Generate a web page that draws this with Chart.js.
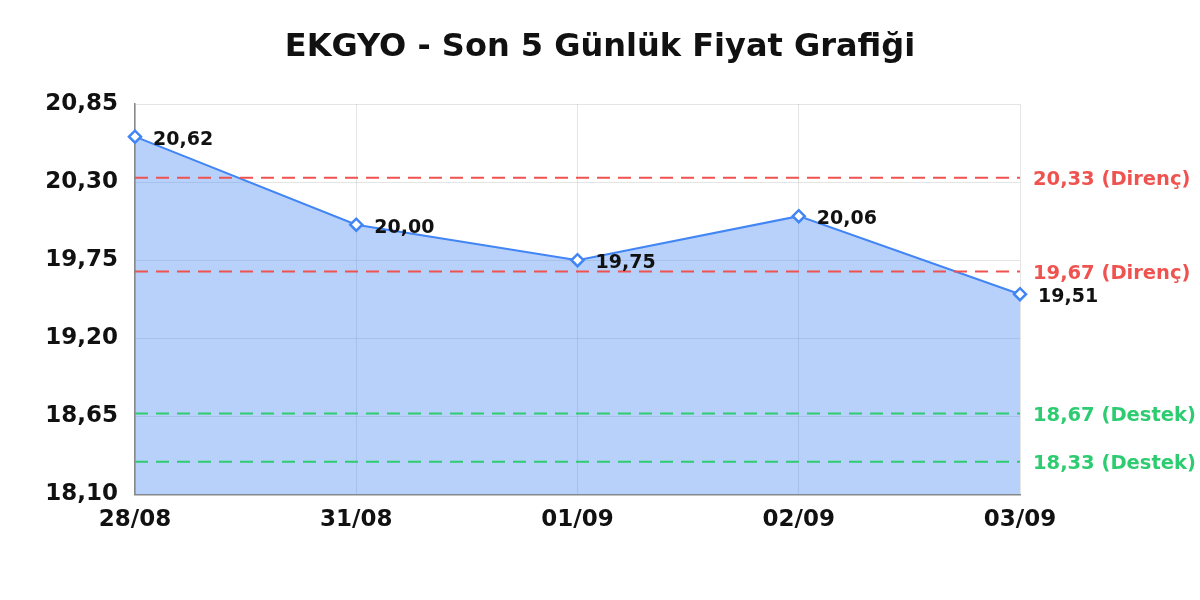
<!DOCTYPE html>
<html>
<head>
<meta charset="utf-8">
<script src="https://cdn.jsdelivr.net/npm/chart.js@4.4.0/dist/chart.umd.min.js"></script>
<style>
html,body{margin:0;padding:0;background:#fff;}
#wrap{width:1200px;height:600px;}
</style>
</head>
<body>
<div id="wrap"><canvas id="c" width="1200" height="600"></canvas></div>
<script>
const titleText = "EKGYO - Son 5 Günlük Fiyat Grafiği";
const categories = ["28/08", "31/08", "01/09", "02/09", "03/09"];
const prices = [20.62, 20.00, 19.75, 20.06, 19.51];
const resistanceLevels = [20.33, 19.67];
const supportLevels = [18.67, 18.33];
const yMin = 18.10, yMax = 20.85, yStep = 0.55;

const FONT = "'DejaVu Sans', sans-serif";
const fmt = v => v.toFixed(2).replace('.', ',');

const levelLines = [
  ...resistanceLevels.map(v => ({value: v, text: fmt(v) + " (Direnç)", color: "#ef5350"})),
  ...supportLevels.map(v => ({value: v, text: fmt(v) + " (Destek)", color: "#2ecc71"}))
];

const levelPlugin = {
  id: 'levels',
  afterDatasetsDraw(chart) {
    const {ctx, chartArea, scales} = chart;
    ctx.save();
    // title
    ctx.fillStyle = "#111";
    ctx.font = "bold 32px " + FONT;
    ctx.textAlign = 'center';
    ctx.textBaseline = 'middle';
    ctx.fillText(titleText, chart.width / 2, 48);
    levelLines.forEach(l => {
      const y = scales.y.getPixelForValue(l.value);
      ctx.beginPath();
      ctx.setLineDash([13, 8]);
      ctx.lineWidth = 2;
      ctx.strokeStyle = l.color;
      ctx.moveTo(chartArea.left, y);
      ctx.lineTo(chartArea.right, y);
      ctx.stroke();
      ctx.setLineDash([]);
      ctx.fillStyle = l.color;
      ctx.font = "bold 19.5px " + FONT;
      ctx.textAlign = 'left';
      ctx.textBaseline = 'middle';
      ctx.fillText(l.text, chartArea.right + 13, y + 2);
    });
    // data labels
    const meta = chart.getDatasetMeta(0);
    ctx.fillStyle = "#111";
    ctx.font = "bold 19px " + FONT;
    ctx.textAlign = 'left';
    ctx.textBaseline = 'middle';
    meta.data.forEach((pt, i) => {
      ctx.fillText(fmt(prices[i]), pt.x + 18, pt.y + 3);
    });
    ctx.restore();
  }
};

new Chart(document.getElementById('c'), {
  type: 'line',
  data: {
    labels: categories,
    datasets: [{
      data: prices,
      borderColor: '#4285f4',
      backgroundColor: 'rgba(66,133,244,0.38)',
      borderWidth: 2,
      fill: 'start',
      tension: 0,
      pointStyle: 'rectRot',
      pointRadius: 6,
      pointHoverRadius: 6,
      pointBorderWidth: 2.5,
      pointBackgroundColor: '#fff',
      pointBorderColor: '#4285f4'
    }]
  },
  options: {
    responsive: false,
    animation: false,
    layout: {padding: {left: 0, right: 180, top: 104, bottom: 54}},
    plugins: {
      legend: {display: false},
      tooltip: {enabled: false},
      title: {display: false}
    },
    scales: {
      x: {
        grid: {color: 'rgba(0,0,0,0.1)', drawTicks: false},
        border: {color: '#888', width: 1.5},
        ticks: {color: '#111', font: {family: FONT, size: 23, weight: 'bold'}, padding: 12, maxRotation: 0}
      },
      y: {
        min: yMin, max: yMax,
        grid: {color: 'rgba(0,0,0,0.1)', drawTicks: false},
        border: {color: '#888', width: 1.5},
        afterFit(scale) { scale.width = 135; },
        afterBuildTicks(scale) {
          const t = [];
          for (let i = 0; i <= Math.round((yMax - yMin) / yStep); i++) t.push({value: +(yMin + i * yStep).toFixed(2)});
          scale.ticks = t;
        },
        ticks: {
          color: '#111',
          font: {family: FONT, size: 23, weight: 'bold'},
          padding: 17,
          callback: v => fmt(v)
        }
      }
    }
  },
  plugins: [levelPlugin]
});
</script>
</body>
</html>
